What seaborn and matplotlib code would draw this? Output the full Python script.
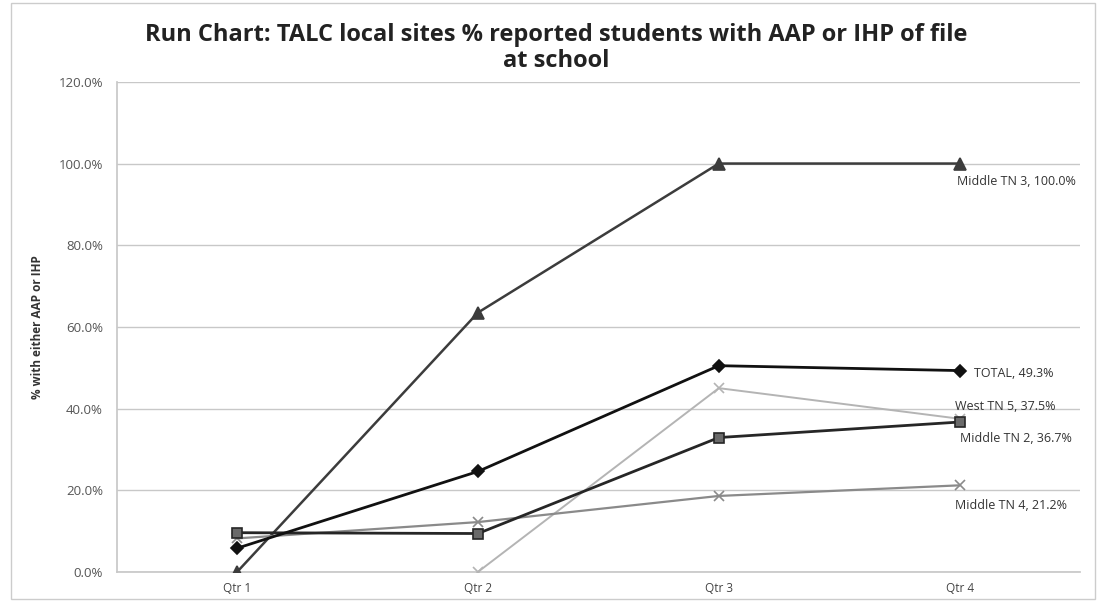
import matplotlib
matplotlib.use("Agg")
import matplotlib.pyplot as plt
import seaborn as sns
import numpy as np
import pandas as pd

quarters = ["Qtr 1", "Qtr 2", "Qtr 3", "Qtr 4"]
middle_tn3 = [0.0, 63.5, 100.0, 100.0]
total = [5.8, 24.6, 50.5, 49.3]
west_tn5 = [np.nan, 0.0, 45.0, 37.5]
middle_tn2 = [9.6, 9.4, 32.9, 36.7]
middle_tn4 = [8.2, 12.2, 18.6, 21.2]
yticks = [0, 20, 40, 60, 80, 100, 120]
ytick_labels = ["0.0%", "20.0%", "40.0%", "60.0%", "80.0%", "100.0%", "120.0%"]

series = [
    ("Middle TN 3", middle_tn3, "#3c3c3c", "^", 1.8, 8),
    ("West TN 5", west_tn5, "#b4b4b4", "x", 1.4, 7),
    ("Middle TN 4", middle_tn4, "#8a8a8a", "x", 1.6, 7),
    ("Middle TN 2", middle_tn2, "#262626", "s", 2.0, 7),
    ("TOTAL", total, "#111111", "D", 2.0, 6),
]

sns.set_theme(style="white")
plt.rcParams['font.family'] = ['Open Sans', 'DejaVu Sans']

fig = plt.figure(figsize=(11.01, 6.02), dpi=100)
ax = fig.add_axes([0.106, 0.05, 0.875, 0.814])

xs = np.arange(len(quarters))
for name, vals, color, marker, lw, ms in series:
    df = pd.DataFrame({"x": xs, "y": vals}).dropna()
    mfc = "#6a6a6a" if marker == "s" else color
    sns.lineplot(data=df, x="x", y="y", ax=ax, color=color, linewidth=lw,
                 marker=marker, markersize=ms, markerfacecolor=mfc,
                 markeredgecolor=color, markeredgewidth=1.2, zorder=3)

ax.set_xlim(-0.5, 3.5)
ax.set_ylim(0, 120)
ax.set_xticks(xs)
ax.set_xticklabels(quarters, fontsize=8.5, color="#444444")
ax.set_yticks(yticks)
ax.set_yticklabels(ytick_labels, fontsize=9.5, color="#555555")
ax.tick_params(axis="x", length=0, pad=7)
ax.tick_params(axis="y", length=0, pad=10)
ax.set_xlabel("")
ax.set_ylabel("% with either AAP or IHP", fontsize=8.5, fontweight="bold",
              color="#333333", labelpad=10)
ax.grid(axis="y", color="#c8c8c8", linewidth=1)
for s in ["top", "right"]:
    ax.spines[s].set_visible(False)
ax.spines["left"].set_color("#c8c8c8")
ax.spines["bottom"].set_color("#c8c8c8")

fig.text(0.505, 0.962,
         "Run Chart: TALC local sites % reported students with AAP or IHP of file\nat school",
         fontsize=17, fontweight="bold", color="#222222", ha="center", va="top",
         linespacing=1.1)

lab_kw = dict(textcoords="offset points", fontsize=9, color="#333333", va="center")
ax.annotate("Middle TN 3, 100.0%", (3, middle_tn3[3]), xytext=(-2, -13), **lab_kw)
ax.annotate("TOTAL, 49.3%", (3, total[3]), xytext=(10, -2), **lab_kw)
ax.annotate("West TN 5, 37.5%", (3, west_tn5[3]), xytext=(-3, 8.5), **lab_kw)
ax.annotate("Middle TN 2, 36.7%", (3, middle_tn2[3]), xytext=(0, -12), **lab_kw)
ax.annotate("Middle TN 4, 21.2%", (3, middle_tn4[3]), xytext=(-3, -14.5), **lab_kw)

fig.patches.append(plt.Rectangle((0.01, 0.005), 0.985, 0.99, transform=fig.transFigure,
                                 fill=False, edgecolor="#cccccc", linewidth=1))

fig.savefig("out.png", dpi=100)
